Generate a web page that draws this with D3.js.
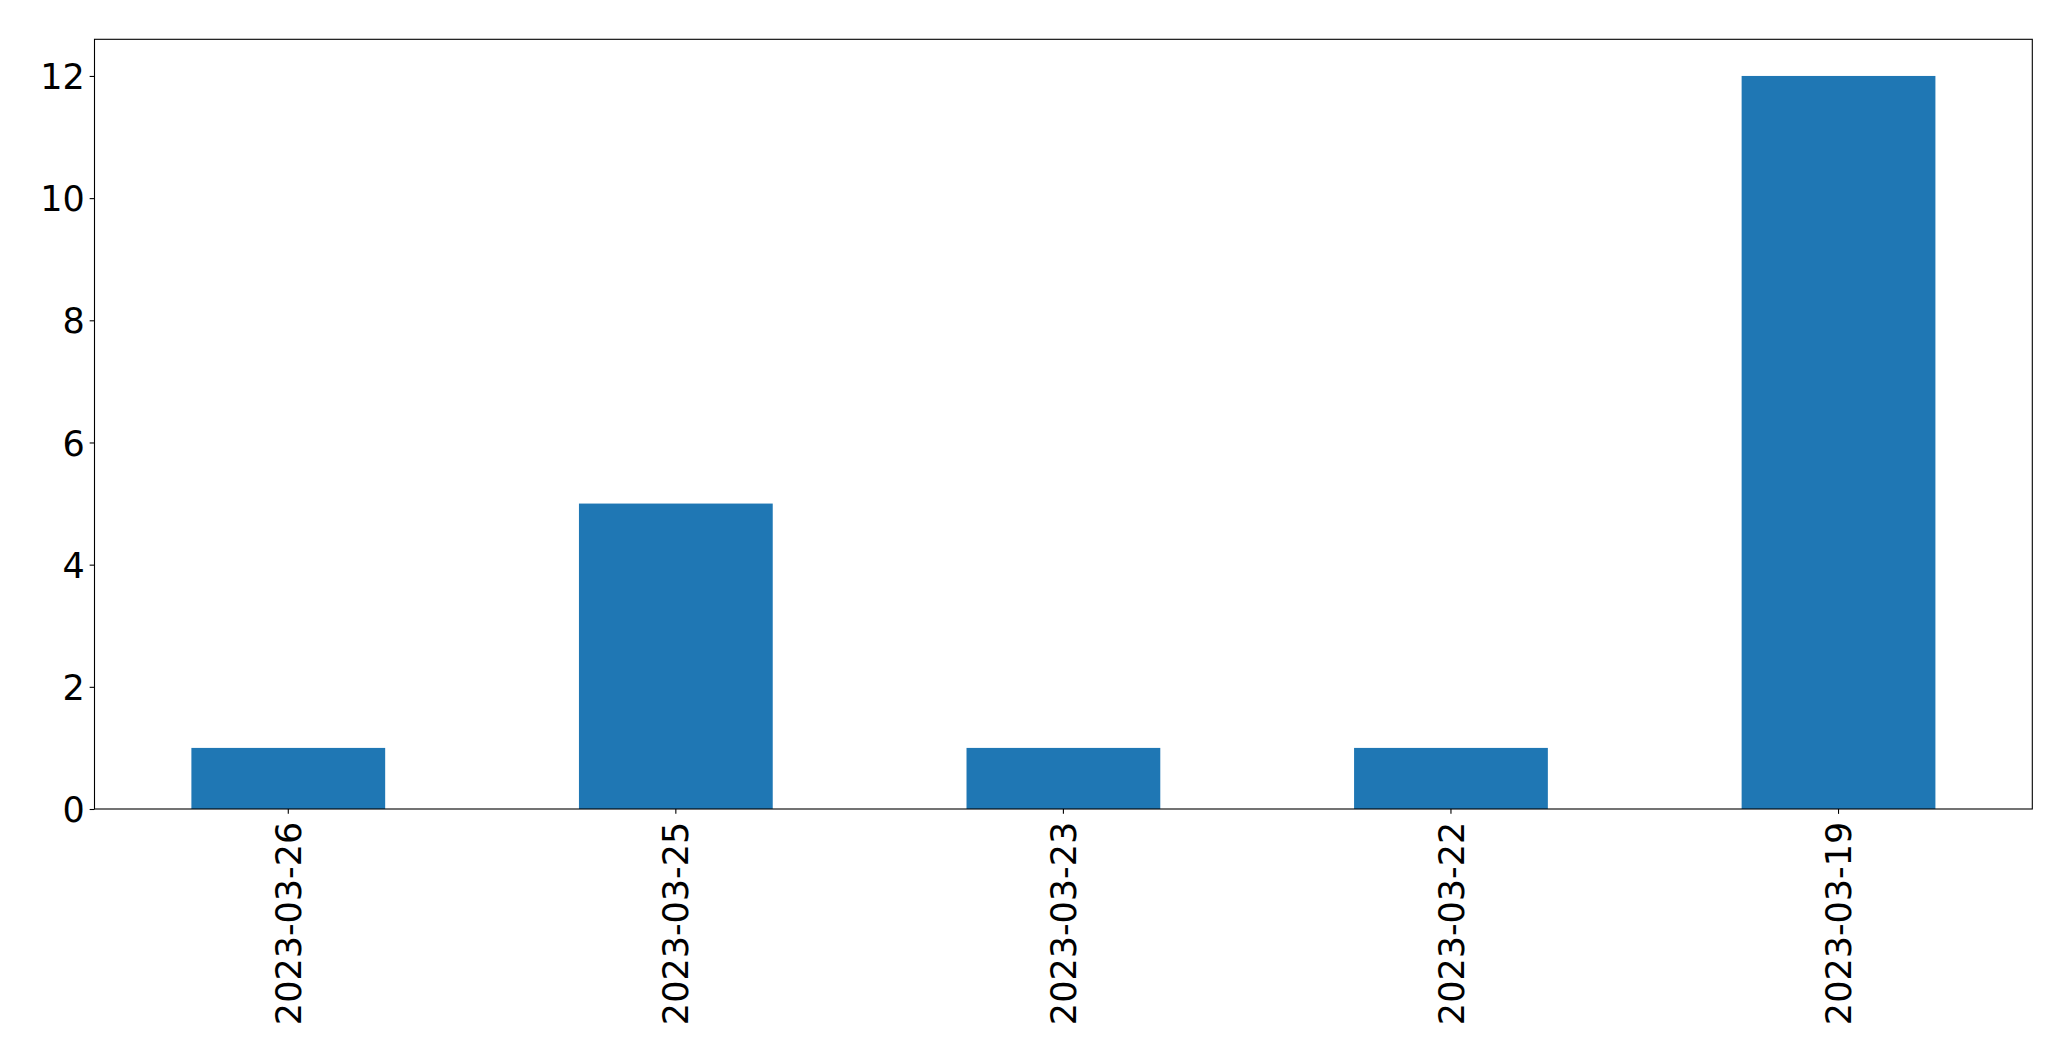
<!DOCTYPE html>
<html>
<head>
<meta charset="utf-8">
<script src="https://cdn.jsdelivr.net/npm/d3@7"></script>
<style>
  html, body { margin: 0; padding: 0; background: #fff; }
  svg { display: block; }
  text { font-family: "DejaVu Sans", sans-serif; }
</style>
</head>
<body>
<svg id="chart" width="2071" height="1061"></svg>
<script>
const categories = ["2023-03-26", "2023-03-25", "2023-03-23", "2023-03-22", "2023-03-19"];
const counts = [1, 5, 1, 1, 12];
const yTicks = [0, 2, 4, 6, 8, 10, 12];

const W = 2071, H = 1061;
const margin = { left: 94.5, right: W - 2032.3, top: 39.3, bottom: H - 809 };
const iw = W - margin.left - margin.right;
const ih = H - margin.top - margin.bottom;
const fontPx = 35;
const tickLen = 4.86, pad = 4.86;

const svg = d3.select("#chart");
const g = svg.append("g").attr("transform", `translate(${margin.left},${margin.top})`);

const x = d3.scaleBand().domain(categories).range([0, iw]).paddingInner(0.5).paddingOuter(0.25);
const y = d3.scaleLinear().domain([0, d3.max(counts) * 1.05]).range([ih, 0]);

g.selectAll("rect.bar")
  .data(categories.map((c, i) => ({ c, v: counts[i] })))
  .join("rect")
  .attr("class", "bar")
  .attr("x", d => x(d.c))
  .attr("y", d => y(d.v))
  .attr("width", x.bandwidth())
  .attr("height", d => y(0) - y(d.v))
  .attr("fill", "#1f77b4");

// Y axis
const yAxis = g.append("g")
  .call(d3.axisLeft(y).tickValues(yTicks).tickFormat(d3.format("d")).tickSize(tickLen).tickPadding(pad));
yAxis.select(".domain").remove();
yAxis.selectAll(".tick line").attr("stroke", "#000").attr("stroke-width", 1.1);
yAxis.selectAll(".tick text").attr("font-size", fontPx).attr("fill", "#000").attr("dy", "0.36em")
  .style("font-family", "'DejaVu Sans', sans-serif");

// X axis
const xAxis = g.append("g").attr("transform", `translate(0,${ih})`)
  .call(d3.axisBottom(x).tickSize(tickLen).tickPadding(pad));
xAxis.select(".domain").remove();
xAxis.selectAll(".tick line").attr("stroke", "#000").attr("stroke-width", 1.1);
xAxis.selectAll(".tick text")
  .attr("font-size", fontPx).attr("fill", "#000")
  .style("font-family", "'DejaVu Sans', sans-serif")
  .attr("text-anchor", "end")
  .attr("transform", `rotate(-90)`)
  .attr("x", -(tickLen + pad + 3))
  .attr("y", 0)
  .attr("dy", "0.36em");

// Frame
g.append("rect")
  .attr("x", 0).attr("y", 0).attr("width", iw).attr("height", ih)
  .attr("fill", "none").attr("stroke", "#000").attr("stroke-width", 1.1);
</script>
</body>
</html>
